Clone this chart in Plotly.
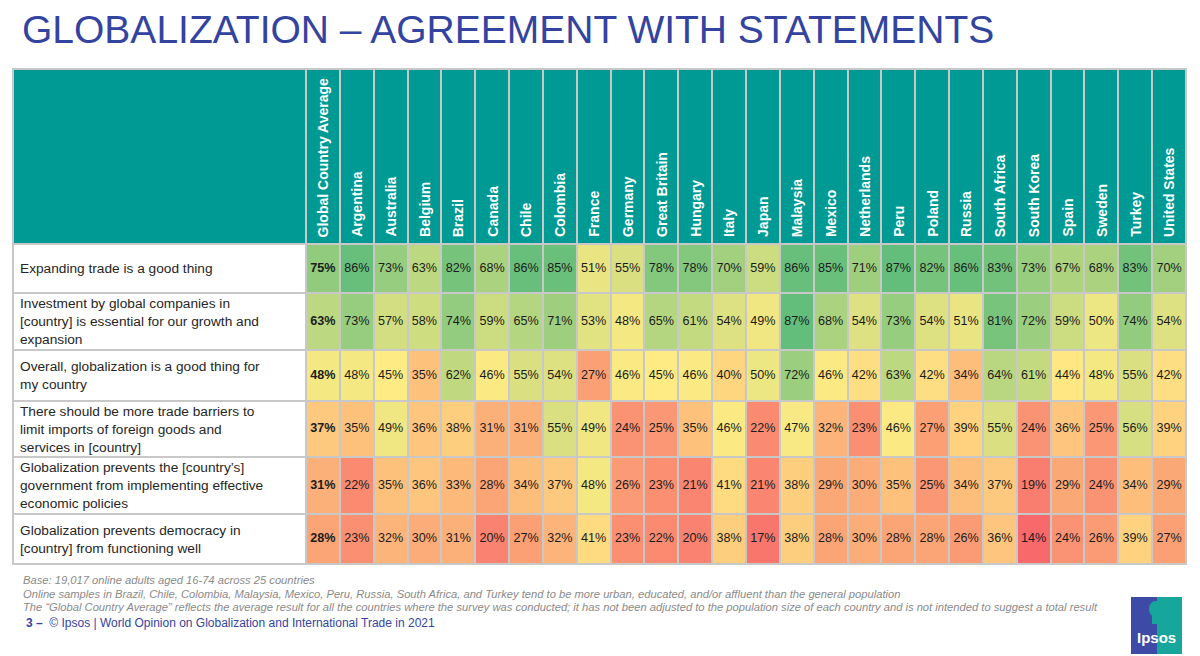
import numpy as np
import plotly.graph_objects as go

# ---------------- data ----------------
countries = ["Global Country Average", "Argentina", "Australia", "Belgium", "Brazil", "Canada",
             "Chile", "Colombia", "France", "Germany", "Great Britain", "Hungary", "Italy",
             "Japan", "Malaysia", "Mexico", "Netherlands", "Peru", "Poland", "Russia",
             "South Africa", "South Korea", "Spain", "Sweden", "Turkey", "United States"]

statements = [
    "Expanding trade is a good thing",
    "Investment by global companies in<br>[country] is essential for our growth and<br>expansion",
    "Overall, globalization is a good thing for<br>my country",
    "There should be more trade barriers to<br>limit imports of foreign goods and<br>services in [country]",
    "Globalization prevents the [country’s]<br>government from implementing effective<br>economic policies",
    "Globalization prevents democracy in<br>[country] from functioning well",
]

expanding_trade = [75, 86, 73, 63, 82, 68, 86, 85, 51, 55, 78, 78, 70, 59, 86, 85, 71, 87, 82, 86, 83, 73, 67, 68, 83, 70]
investment = [63, 73, 57, 58, 74, 59, 65, 71, 53, 48, 65, 61, 54, 49, 87, 68, 54, 73, 54, 51, 81, 72, 59, 50, 74, 54]
globalization_good = [48, 48, 45, 35, 62, 46, 55, 54, 27, 46, 45, 46, 40, 50, 72, 46, 42, 63, 42, 34, 64, 61, 44, 48, 55, 42]
trade_barriers = [37, 35, 49, 36, 38, 31, 31, 55, 49, 24, 25, 35, 46, 22, 47, 32, 23, 46, 27, 39, 55, 24, 36, 25, 56, 39]
prevents_government = [31, 22, 35, 36, 33, 28, 34, 37, 48, 26, 23, 21, 41, 21, 38, 29, 30, 35, 25, 34, 37, 19, 29, 24, 34, 29]
prevents_democracy = [28, 23, 32, 30, 31, 20, 27, 32, 41, 23, 22, 20, 38, 17, 38, 28, 30, 28, 28, 26, 36, 14, 24, 26, 39, 27]

values = [expanding_trade, investment, globalization_good, trade_barriers,
          prevents_government, prevents_democracy]

# ---------------- layout constants ----------------
OFF = 8                      # page body margin
W, H = 1200 - OFF, 656 - OFF
ML, MR, MT, MB = 13 - OFF, 14, 69 - OFF, 92
PW, PH = W - ML - MR, H - MT - MB
COL_PX = 880 / 26
LABEL_W = 293 / COL_PX
HEADER_H = 175
ROW_HEIGHTS = [49, 57, 51, 56, 57, 50]
TEAL = "#009a95"
GRID = "#c8c8c8"
NAVY = "#3344a0"
FONT = "Liberation Sans, Arial"

n_cols = len(countries)
y_edges = [HEADER_H]
for h in ROW_HEIGHTS:
    y_edges.append(y_edges[-1] + h)
row_centers = [(y_edges[i] + y_edges[i + 1]) / 2 for i in range(len(values))]
x_edges = list(range(n_cols + 1))

z = np.array(values, dtype=float)
zmin, zmax, zmid = z.min(), z.max(), np.percentile(z, 50)
mid_pos = (zmid - zmin) / (zmax - zmin)
colorscale = [[0, "#F8696B"], [mid_pos, "#FFEB84"], [1, "#63BE7B"]]


def px2x(px):
    """window pixel -> paper x"""
    return (px - OFF - ML) / PW


def py2y(py):
    """window pixel -> paper y"""
    return (H - MB - (py - OFF)) / PH


fig = go.Figure()

# header band
fig.add_trace(go.Heatmap(
    z=[[1] * (n_cols + 1)], x=[-LABEL_W] + x_edges, y=[0, HEADER_H],
    colorscale=[[0, TEAL], [1, TEAL]], showscale=False, xgap=2, ygap=2, hoverinfo="skip"))

# label column
fig.add_trace(go.Heatmap(
    z=[[1] for _ in values], x=[-LABEL_W, 0], y=y_edges,
    colorscale=[[0, "white"], [1, "white"]], showscale=False, xgap=2, ygap=2, hoverinfo="skip"))

# values
fig.add_trace(go.Heatmap(
    z=z, x=x_edges, y=y_edges, zmin=zmin, zmax=zmax, colorscale=colorscale,
    showscale=False, xgap=2, ygap=2, hoverinfo="skip"))

# value labels
tx, ty, tt = [], [], []
for r, row in enumerate(values):
    for c, v in enumerate(row):
        tx.append(c + 0.5)
        ty.append(row_centers[r])
        tt.append(f"<b>{v}%</b>" if c == 0 else f"{v}%")
fig.add_trace(go.Scatter(
    x=tx, y=ty, text=tt, mode="text", hoverinfo="skip", showlegend=False,
    textfont=dict(family=FONT, size=12.6, color="#1b1b1b")))

# header labels
for i, name in enumerate(countries):
    fig.add_annotation(x=i + 0.5, y=HEADER_H - 5, text=name, textangle=-90,
                       xanchor="center", yanchor="bottom", showarrow=False,
                       font=dict(family=FONT, size=14, color="white", weight="bold"))

# row labels
for r, s in enumerate(statements):
    fig.add_annotation(x=-LABEL_W, xshift=5, y=row_centers[r], text=s, align="left",
                       xanchor="left", yanchor="middle", showarrow=False,
                       font=dict(family=FONT, size=13.7, color="#262626"))

# title
fig.add_annotation(xref="paper", yref="paper", x=px2x(20), y=py2y(30),
                   text="GLOBALIZATION – AGREEMENT WITH STATEMENTS",
                   xanchor="left", yanchor="middle", showarrow=False,
                   font=dict(family=FONT, size=39, color=NAVY))

# footnotes
notes = [
    "Base: 19,017 online adults aged 16-74 across 25 countries",
    "Online samples in Brazil, Chile, Colombia, Malaysia, Mexico, Peru, Russia, South Africa, and Turkey tend to be more urban, educated, and/or affluent than the general population",
    "The “Global Country Average” reflects the average result for all the countries where the survey was conducted; it has not been adjusted to the population size of each country and is not intended to suggest a total result",
]
for k, note in enumerate(notes):
    fig.add_annotation(xref="paper", yref="paper", x=px2x(21), y=py2y(580 + 13.5 * k), text=note,
                       xanchor="left", yanchor="middle", showarrow=False,
                       font=dict(family=FONT, size=11.2, color="#8a8a8a", style="italic"))

fig.add_annotation(xref="paper", yref="paper", x=px2x(24), y=py2y(623),
                   text="<b>3 –</b>  © Ipsos | World Opinion on Globalization and International Trade in 2021",
                   xanchor="left", yanchor="middle", showarrow=False,
                   font=dict(family=FONT, size=12, color=NAVY))

# outer border
fig.add_shape(type="rect", xref="paper", yref="paper", x0=0, x1=1, y0=0, y1=1,
              line=dict(color=GRID, width=2), fillcolor="rgba(0,0,0,0)", layer="above")

# Ipsos logo
fig.add_shape(type="rect", xref="paper", yref="paper", x0=px2x(1131), x1=px2x(1157),
              y0=py2y(654), y1=py2y(597), fillcolor="#3d4aa6", line=dict(width=0))
fig.add_shape(type="rect", xref="paper", yref="paper", x0=px2x(1157), x1=px2x(1182),
              y0=py2y(654), y1=py2y(597), fillcolor="#16a69b", line=dict(width=0))
fig.add_shape(type="circle", xref="paper", yref="paper", x0=px2x(1149), x1=px2x(1162),
              y0=py2y(617), y1=py2y(601), fillcolor="#16a69b", line=dict(width=0))
fig.add_shape(type="rect", xref="paper", yref="paper", x0=px2x(1152), x1=px2x(1158),
              y0=py2y(624), y1=py2y(614), fillcolor="#16a69b", line=dict(width=0))
fig.add_annotation(xref="paper", yref="paper", x=px2x(1156), y=py2y(637), text="<b>Ipsos</b>",
                   xanchor="center", yanchor="middle", showarrow=False,
                   font=dict(family=FONT, size=15, color="white"))

fig.update_xaxes(range=[-LABEL_W, n_cols], visible=False, fixedrange=True)
fig.update_yaxes(range=[y_edges[-1], 0], visible=False, fixedrange=True)
fig.update_layout(width=W, height=H, margin=dict(l=ML, r=MR, t=MT, b=MB),
                  paper_bgcolor="white", plot_bgcolor=GRID, showlegend=False)

fig.write_html("out.html")
